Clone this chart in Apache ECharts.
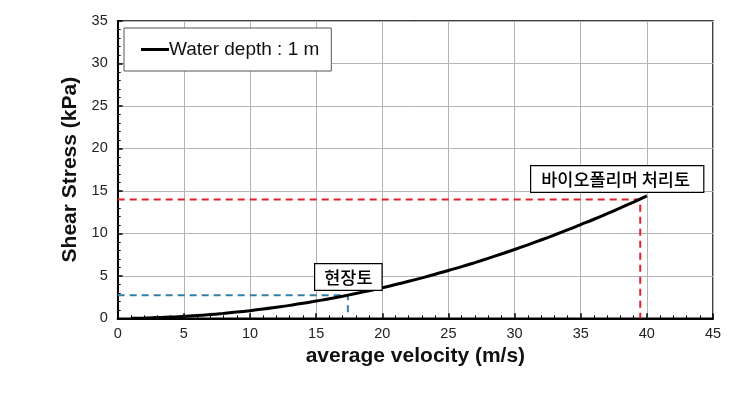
<!DOCTYPE html>
<html><head><meta charset="utf-8">
<script src="https://cdn.jsdelivr.net/npm/echarts@6/dist/echarts.min.js"></script>
<style>html,body{margin:0;padding:0;background:#fff}#c{width:742px;height:418px}</style>
</head><body><div id="c"></div>
<script>
// velocity (m/s)
const velocity = [1,2,3,4,5,6,7,8,9,10,11,12,13,14,15,16,17,18,19,20,21,22,23,24,25,26,27,28,29,30,31,32,33,34,35,36,37,38,39,40];
// shear stress (kPa)
const shearStress = [0.01,0.04,0.08,0.14,0.23,0.32,0.44,0.58,0.73,0.9,1.09,1.3,1.52,1.76,2.03,2.3,2.6,2.92,3.25,3.6,3.97,4.36,4.76,5.18,5.63,6.08,6.56,7.06,7.57,8.1,8.65,9.22,9.8,10.4,11.03,11.66,12.32,13.0,13.69,14.4];
const redGuideX = [0, 39.5, 39.5];
const redGuideY = [14, 14, 0];
const blueGuideX = [0, 17.4, 17.4];
const blueGuideY = [2.7, 2.7, 0];
const seriesName = 'Water depth : 1 m';
const labelTreated = '바이오폴리머 처리토';
const labelField = '현장토';

const zip = (a, b) => a.map((v, i) => [v, b[i]]);
const chart = echarts.init(document.getElementById('c'), null, {renderer: 'canvas'});
const tickFont = {fontFamily: 'Liberation Sans, Arial', fontSize: 14.5, color: '#222'};
chart.setOption({
  animation: false,
  backgroundColor: '#fff',
  grid: {left: 117.7, right: 29, top: 21, bottom: 99.7, show: true, borderColor: '#000', borderWidth: 1.5},
  legend: {
    show: true, left: 124, top: 28, orient: 'vertical',
    padding: [12, 12, 12, 17], itemWidth: 28, itemHeight: 3, itemGap: 0,
    borderColor: '#555', borderWidth: 1, backgroundColor: '#fff',
    data: [{name: seriesName, icon: 'rect'}],
    textStyle: {fontFamily: 'Liberation Sans, Arial', fontSize: 19, color: '#111', padding: [0,0,0,-5]}
  },
  xAxis: {
    type: 'value', min: 0, max: 45, interval: 5,
    name: 'average velocity (m/s)', nameLocation: 'middle', nameGap: 27,
    nameTextStyle: {fontFamily: 'Liberation Sans, Arial', fontWeight: 'bold', fontSize: 21, color: '#111'},
    axisLine: {show: true, lineStyle: {color: '#000', width: 2}},
    axisTick: {show: true, inside: true, length: 5, lineStyle: {color: '#000', width: 1.5}},
    minorTick: {show: true, splitNumber: 5, length: 3, lineStyle: {color: '#000', width: 1}},
    axisLabel: Object.assign({margin: 8}, tickFont),
    splitLine: {show: true, lineStyle: {color: '#b4b4b4', width: 1}}
  },
  yAxis: {
    type: 'value', min: 0, max: 35, interval: 5,
    name: 'Shear Stress (kPa)', nameLocation: 'middle', nameGap: 31,
    nameTextStyle: {fontFamily: 'Liberation Sans, Arial', fontWeight: 'bold', fontSize: 21, color: '#111'},
    axisLine: {show: true, lineStyle: {color: '#000', width: 2}},
    axisTick: {show: true, inside: true, length: 5, lineStyle: {color: '#000', width: 1.5}},
    minorTick: {show: true, splitNumber: 5, length: 3, lineStyle: {color: '#000', width: 1}},
    axisLabel: Object.assign({margin: 10}, tickFont),
    splitLine: {show: true, lineStyle: {color: '#b4b4b4', width: 1}}
  },
  series: [
    {name: 'red', type: 'line', data: zip(redGuideX, redGuideY), symbol: 'none', silent: true,
     lineStyle: {color: '#e0202a', width: 2, type: [7, 5]}, z: 3},
    {name: 'blue', type: 'line', data: zip(blueGuideX, blueGuideY), symbol: 'none', silent: true,
     lineStyle: {color: '#2f7fa6', width: 2, type: [7, 5]}, z: 3},
    {name: seriesName, type: 'line', data: zip(velocity, shearStress), symbol: 'none', smooth: true,
     lineStyle: {color: '#000', width: 3}, itemStyle: {color: '#000'}, z: 4}
  ],
  graphic: [
    {type: 'text', left: 530, top: 165, z: 10, style: {
      text: labelTreated, font: '500 17.5px "Noto Sans CJK KR"', fill: '#000',
      backgroundColor: '#fff', borderColor: '#000', borderWidth: 1.2,
      padding: [4, 10, 4, 10], width: 152, align: 'left'}},
    {type: 'text', left: 314, top: 263, z: 10, style: {
      text: labelField, font: '500 17.5px "Noto Sans CJK KR"', fill: '#000',
      backgroundColor: '#fff', borderColor: '#000', borderWidth: 1.2,
      padding: [4, 9, 4, 9]}}
  ]
});
</script></body></html>
